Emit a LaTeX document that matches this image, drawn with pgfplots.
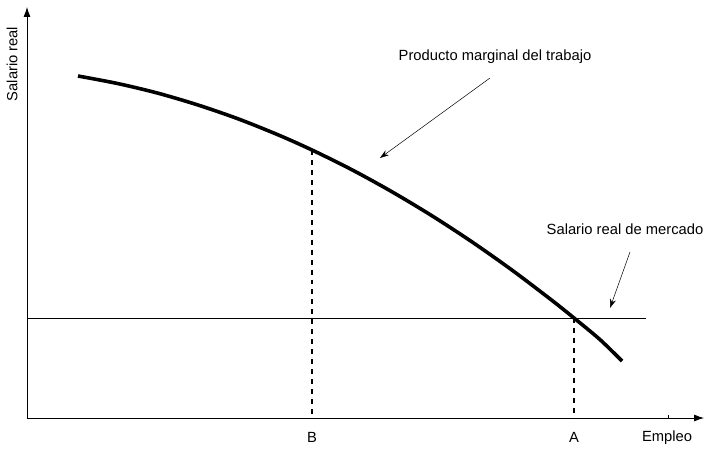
\documentclass[border=0pt]{standalone}
\usepackage{pgfplots}
\pgfplotsset{compat=1.18}
\usepackage{fontspec}
\setmainfont{Liberation Sans}
\usetikzlibrary{arrows.meta}
\newcommand\lbl{\fontsize{14.8}{17}\selectfont}

\begin{document}
\begin{tikzpicture}[x=1bp,y=1bp]
\begin{axis}[
  scale only axis,
  x=1bp, y=1bp,
  xmin=27, xmax=704,
  ymin=30, ymax=441,
  axis lines=left,
  axis line style={line width=0.8pt,-{Latex[length=10pt,width=7pt]}},
  xtick=\empty, ytick=\empty,
  clip=false,
]
% bounding box matching the reference
\path (axis cs:0,0) rectangle (axis cs:707,448);

% marginal product of labour
\addplot[black, line width=3.6pt, smooth] coordinates {
(78,372) (118,364.4) (158,354.8) (198,343) (238,329.2) (278,313.2)
(312,298) (352,278.2) (392,256.2) (432,232.2) (472,206.1) (512,177.9)
(552,147.6) (574,130) (600,108.4) (622,87)
};

% market real wage
\addplot[black, line width=0.8pt] coordinates {(27,130) (646,130)};

% dashed guides
\addplot[black, line width=1.4pt, dash pattern=on 5pt off 5pt] coordinates {(312,298) (312,30)};
\addplot[black, line width=1.4pt, dash pattern=on 5pt off 5pt] coordinates {(574,130) (574,30)};

% small tick on the x axis
\addplot[black, line width=0.6pt] coordinates {(668,30) (668,33)};

% annotation arrows
\draw[-{Stealth[length=9pt,width=6pt]}, line width=0.5pt] (axis cs:490,370) -- (axis cs:380,290);
\draw[-{Stealth[length=9pt,width=6pt]}, line width=0.5pt] (axis cs:630,196) -- (axis cs:610,140);

\node at (axis cs:495,391) {\lbl Producto marginal del trabajo};
\node at (axis cs:625,219) {\lbl Salario real de mercado};
\node at (axis cs:312,11) {\lbl B};
\node at (axis cs:574,11) {\lbl A};
\node at (axis cs:667,10) {\lbl Empleo};
\node[rotate=90] at (axis cs:12,384) {\lbl Salario real};
\end{axis}
\end{tikzpicture}
\end{document}
